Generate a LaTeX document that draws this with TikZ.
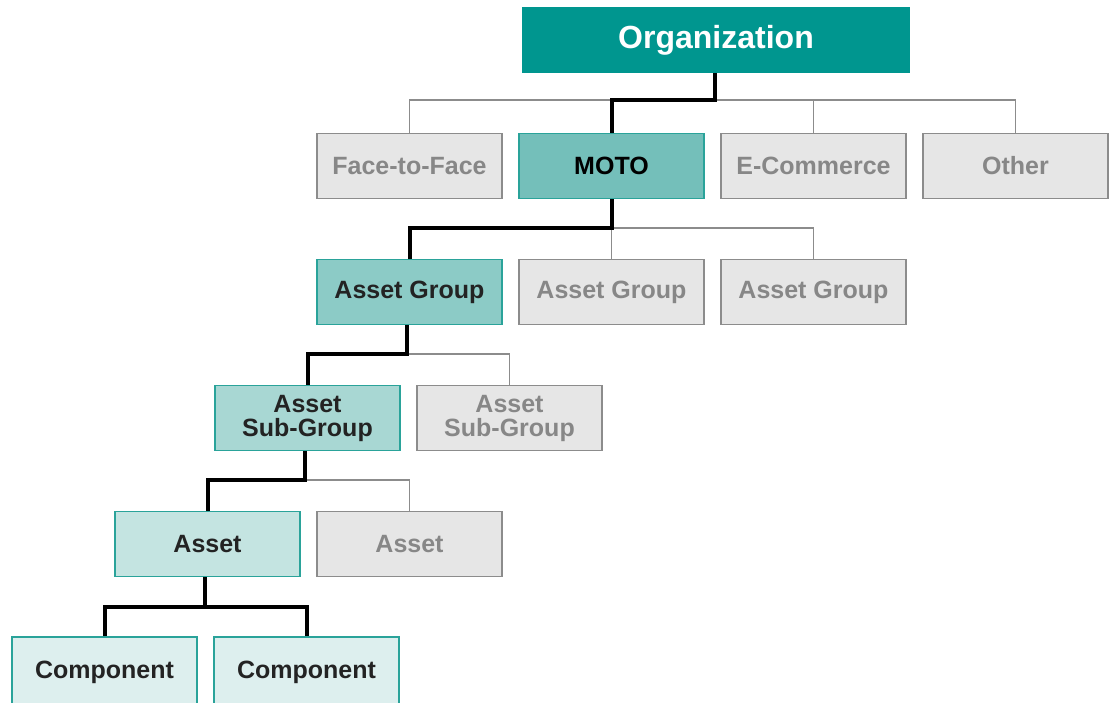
\documentclass[tikz,border=0pt]{standalone}
\usepackage{fontspec}
\setmainfont{Liberation Sans}
\definecolor{orgteal}{RGB}{0,150,143}
\definecolor{hl1}{RGB}{116,191,186}
\definecolor{hl2}{RGB}{140,203,198}
\definecolor{hl3}{RGB}{168,215,211}
\definecolor{hl4}{RGB}{196,228,225}
\definecolor{hl5}{RGB}{221,239,238}
\definecolor{hlborder}{RGB}{42,163,154}
\definecolor{grayfill}{RGB}{230,230,230}
\definecolor{grayline}{RGB}{140,140,140}
\definecolor{graytext}{RGB}{135,135,135}
\definecolor{darktext}{RGB}{35,35,35}
\begin{document}
\begin{tikzpicture}[x=1pt,y=-1pt,
  box/.style={draw, line width=1.3pt, minimum width=185pt, minimum height=65pt, inner sep=0pt, align=center, font=\bfseries\fontsize{25}{24}\selectfont},
  graybox/.style={box, fill=grayfill, draw=grayline, text=graytext},
  hlbox/.style={box, draw=hlborder, text=darktext},
  thin/.style={draw=grayline, line width=1.4pt},
  bold/.style={draw=black, line width=4pt}]
\useasboundingbox (0,0) rectangle (1110,702);
% Organization
\node[draw=none, fill=orgteal, minimum width=388pt, minimum height=66pt, inner sep=0pt, text=white, font=\bfseries\fontsize{32}{32}\selectfont] (org) at (716,40) {Organization};
% Row 1
\node[graybox] (f2f) at (409.5,166) {Face-to-Face};
\node[hlbox, fill=hl1, text=black] (moto) at (611.5,166) {MOTO};
\node[graybox] (ecom) at (813.5,166) {E-Commerce};
\node[graybox] (other) at (1015.5,166) {Other};
% Row 2
\node[hlbox, fill=hl2] (ag1) at (409.5,292) {Asset Group};
\node[graybox] (ag2) at (611.5,292) {Asset Group};
\node[graybox] (ag3) at (813.5,292) {Asset Group};
% Row 3
\node[hlbox, fill=hl3] (sg1) at (307.5,418) {Asset\\Sub-Group};
\node[graybox] (sg2) at (509.5,418) {Asset\\Sub-Group};
% Row 4
\node[hlbox, fill=hl4] (as1) at (207.5,544) {Asset};
\node[graybox] (as2) at (409.5,544) {Asset};
% Row 5
\node[hlbox, fill=hl5, minimum height=70pt] (c1) at (104.5,672) {Component};
\node[hlbox, fill=hl5, minimum height=70pt] (c2) at (306.5,672) {Component};
% connectors row 1
\coordinate (j1) at (715,100);
\draw[thin] (f2f.north) |- (j1);
\draw[thin] (j1) -| (ecom.north);
\draw[thin] (j1) -| (other.north);
\draw[bold] (org.south -| j1) -- (j1) -| (moto.north);
% row 2
\coordinate (j2) at (611.5,228);
\draw[thin] (j2) -- (ag2.north);
\draw[thin] (j2) -| (ag3.north);
\draw[bold] (moto.south) -- (j2) -| (ag1.north);
% row 3
\coordinate (j3) at (407,354);
\draw[thin] (j3) -| (sg2.north);
\draw[bold] (ag1.south -| j3) -- (j3) -| (sg1.north);
% row 4
\coordinate (j4) at (305,480);
\draw[thin] (j4) -| (as2.north);
\draw[bold] (sg1.south -| j4) -- (j4) -| (as1.north);
% row 5
\coordinate (j5) at (205,607);
\draw[bold] (as1.south -| j5) -- (j5);
\draw[bold] (j5) -| (c1.north);
\draw[bold] (j5) -| (c2.north);
\end{tikzpicture}
\end{document}
